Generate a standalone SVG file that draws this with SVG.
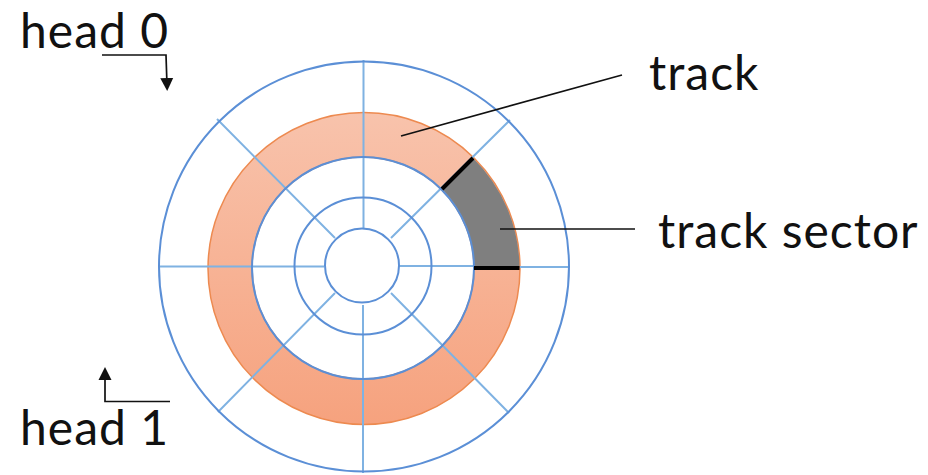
<svg xmlns="http://www.w3.org/2000/svg" width="928" height="475" viewBox="0 0 928 475">
<style>
text{font-family:Lato,"Open Sans","Liberation Sans",sans-serif;font-size:48px;letter-spacing:1px;fill:#111}
.ring{fill:none;stroke:#5b8fd6;stroke-width:2}
.spoke{stroke:#7fb2e2;stroke-width:2;fill:none}
.lead{stroke:#111;stroke-width:1.7;fill:none}
.thick{stroke:#000;stroke-width:4;fill:none}
</style>
<defs>
<linearGradient id="g" x1="0" y1="0" x2="0" y2="1"><stop offset="0" stop-color="#f8c3ac"/><stop offset="1" stop-color="#f6a27e"/></linearGradient>
<marker id="a" markerWidth="14" markerHeight="14" refX="7" refY="7" orient="auto" markerUnits="userSpaceOnUse"><path d="M0,0.5L13,7L0,13.5Z" fill="#111"/></marker>
</defs>
<g id="track"><path fill-rule="evenodd" fill="url(#g)" stroke="#ed8a50" stroke-width="1.5" d="M208,268.500a156,156 0 1,0 312,0a156,156 0 1,0 -312,0ZM252,268a111,111 0 1,0 222,0a111,111 0 1,0 -222,0Z"/></g>
<g id="track-sector"><path fill="#7f7f7f" d="M474,268H519.500A156,156 0 0,0 473,158L442,189A111,111 0 0,1 474,268Z"/></g>
<g id="spokes">
<path class="spoke" d="M363.500,60V229M363,305V473M159,266.500H324M399,266H474M520,267H568"/>
<path class="spoke" d="M217,119L335,238M335,293L218,412M391,238L510,120M391,293L509,413"/>
</g>
<g id="rings">
<circle class="ring" cx="364" cy="266.500" r="205"/>
<circle class="ring" cx="363" cy="266" r="68.500"/>
<circle class="ring" cx="362" cy="265.500" r="37"/>
<circle class="ring" cx="363" cy="268" r="111"/>
</g>
<g id="sector-edges">
<path class="thick" d="M473,158L442,189M474,268H519.500"/>
</g>
<g id="connectors">
<path class="lead" d="M102,55H166L167,85" marker-end="url(#a)"/>
<path class="lead" d="M170,401.500H105V373" marker-end="url(#a)"/>
<path class="lead" d="M401,136L622,75"/>
<path class="lead" d="M500,229H635"/>
</g>
<g id="head-0"><text x="20" y="48">head 0</text></g>
<g id="head-1"><text x="20" y="445">head 1</text></g>
<g id="track-label"><text x="649" y="90">track</text></g>
<g id="sector-label"><text x="658" y="248">track sector</text></g>
</svg>
